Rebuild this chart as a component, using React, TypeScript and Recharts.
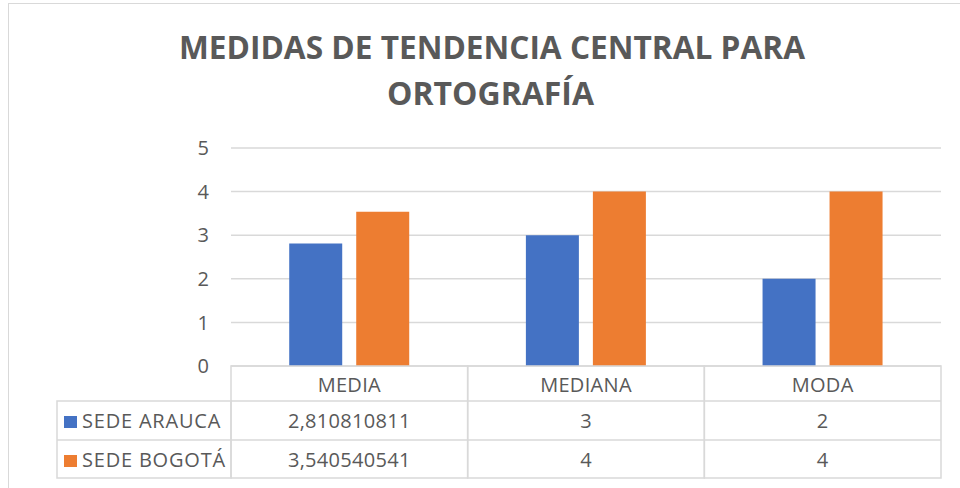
// Grouped bar chart with a data table underneath (Excel style)
import React from "react";
import { BarChart, Bar, XAxis, YAxis, CartesianGrid } from "recharts";

const categories = ["MEDIA", "MEDIANA", "MODA"];
const seriesNames = ["SEDE ARAUCA", "SEDE BOGOTÁ"];
const araucaValues = [2.810810811, 3, 2];
const bogotaValues = [3.540540541, 4, 4];
const araucaLabels = ["2,810810811", "3", "2"];
const bogotaLabels = ["3,540540541", "4", "4"];
const yTicks = [0, 1, 2, 3, 4, 5];

const seriesColors = ["#4472C4", "#ED7D31"];
const textColor = "#595959";
const lineColor = "#d9d9d9";
const font = "'Open Sans', sans-serif";

const W = 960;
const H = 488;
const xAxisHeight = 122;
const yAxisWidth = 40;
const margin = { top: 148, right: 19, bottom: 0, left: 191 };
const plotLeft = margin.left + yAxisWidth;
const colWidth = (W - plotLeft - margin.right) / categories.length;
const rowH = [35, 39, 38];
const legendLeft = 57;

const data = categories.map((name, i) => ({
  name,
  arauca: araucaValues[i],
  bogota: bogotaValues[i],
}));

const rowLabels = [araucaLabels, bogotaLabels];

const TableTick = (props: any) => {
  const { x, y, payload } = props;
  const i = payload.index;
  const left = x - colWidth / 2;
  const r1 = y + rowH[0];
  const r2 = r1 + rowH[1];
  const bottom = r2 + rowH[2];
  const txt = { fontFamily: font, fontSize: 20, fill: textColor, letterSpacing: 0.3 };
  return (
    <g>
      <rect x={left} y={y} width={colWidth} height={bottom - y} fill="none" stroke={lineColor} strokeWidth={1.5} />
      <line x1={left} x2={left + colWidth} y1={r1} y2={r1} stroke={lineColor} strokeWidth={1.5} />
      <line x1={left} x2={left + colWidth} y1={r2} y2={r2} stroke={lineColor} strokeWidth={1.5} />
      <text x={x} y={y + 26} textAnchor="middle" {...txt}>{payload.value}</text>
      {rowLabels.map((labels, s) => (
        <text key={s} x={x} y={(s === 0 ? r1 : r2) + 27} textAnchor="middle" {...txt}>
          {labels[i]}
        </text>
      ))}
      {i === 0 && (
        <g>
          <rect x={legendLeft} y={r1} width={left - legendLeft} height={bottom - r1} fill="none" stroke={lineColor} strokeWidth={1.5} />
          <line x1={legendLeft} x2={left} y1={r2} y2={r2} stroke={lineColor} strokeWidth={1.5} />
          {seriesNames.map((n, s) => {
            const top = s === 0 ? r1 : r2;
            return (
              <g key={n}>
                <rect x={64} y={top + 15} width={13} height={12} fill={seriesColors[s]} />
                <text x={82} y={top + 27} {...txt} letterSpacing={0.8}>{n}</text>
              </g>
            );
          })}
        </g>
      )}
    </g>
  );
};

export default function App() {
  return (
    <div style={{ position: "absolute", left: 0, top: 0, width: W, height: H, background: "#fff", overflow: "hidden" }}>
      <div style={{ position: "absolute", left: 8, top: 3, width: W, height: H, borderLeft: `1.5px solid ${lineColor}`, borderTop: `1.5px solid ${lineColor}` }} />
      <BarChart
        width={W}
        height={H}
        data={data}
        margin={margin}
        barCategoryGap="24.6%"
        barGap={14}
        style={{ position: "absolute", left: 0, top: 0 }}
      >
        <CartesianGrid vertical={false} stroke={lineColor} strokeWidth={1.5} />
        <XAxis
          dataKey="name"
          axisLine={false}
          tickLine={false}
          tickSize={0}
          tickMargin={0}
          height={xAxisHeight}
          tick={<TableTick />}
          interval={0}
        />
        <YAxis
          width={yAxisWidth}
          domain={[0, 5]}
          ticks={yTicks}
          interval={0}
          axisLine={false}
          tickLine={false}
          tickSize={0}
          tickMargin={22}
          tick={{ fill: textColor, fontSize: 20, fontFamily: font }}
        />
        <Bar dataKey="arauca" name={seriesNames[0]} fill={seriesColors[0]} isAnimationActive={false} />
        <Bar dataKey="bogota" name={seriesNames[1]} fill={seriesColors[1]} isAnimationActive={false} />
      </BarChart>
      <svg width={W} height={120} style={{ position: "absolute", left: 0, top: 0 }}>
        <text x={492} y={59} textAnchor="middle" fontFamily={font} fontWeight="bold" fontSize={33} fill={textColor} textLength={626} lengthAdjust="spacingAndGlyphs">
          MEDIDAS DE TENDENCIA CENTRAL PARA
        </text>
        <text x={490.5} y={105} textAnchor="middle" fontFamily={font} fontWeight="bold" fontSize={33} fill={textColor} textLength={207} lengthAdjust="spacingAndGlyphs">
          ORTOGRAFÍA
        </text>
      </svg>
    </div>
  );
}
